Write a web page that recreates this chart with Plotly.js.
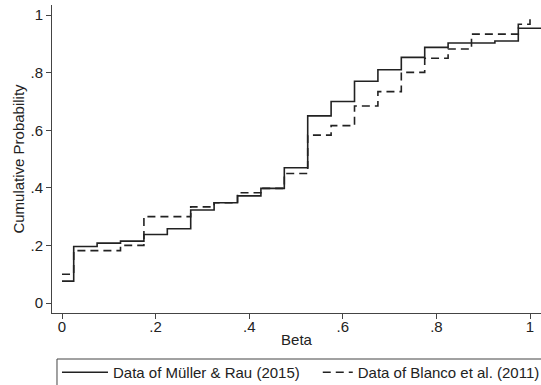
<!DOCTYPE html>
<html>
<head>
<meta charset="utf-8">
<script src="https://cdn.plot.ly/plotly-3.0.1.min.js"></script>
<style>html,body{margin:0;padding:0;background:#fff;overflow:hidden;}#chart{width:541px;height:385px;}</style>
</head>
<body>
<div id="chart"></div>
<script>
// Müller & Rau (2015) empirical CDF of beta
const mullerBeta = [0, 0.025, 0.075, 0.125, 0.175, 0.225, 0.275, 0.325, 0.375, 0.425, 0.475, 0.525, 0.575, 0.625, 0.675, 0.725, 0.775, 0.825, 0.925, 0.975, 1.075];
const mullerCum  = [0.076, 0.196, 0.208, 0.215, 0.238, 0.258, 0.323, 0.348, 0.372, 0.398, 0.470, 0.650, 0.700, 0.770, 0.810, 0.853, 0.888, 0.903, 0.910, 0.954, 1.0];
// Blanco et al. (2011) empirical CDF of beta
const blancoBeta = [0, 0.025, 0.125, 0.175, 0.275, 0.325, 0.375, 0.425, 0.475, 0.525, 0.575, 0.625, 0.675, 0.725, 0.775, 0.825, 0.875, 0.975, 1.0];
const blancoCum  = [0.100, 0.182, 0.200, 0.300, 0.334, 0.348, 0.383, 0.398, 0.450, 0.583, 0.616, 0.684, 0.734, 0.801, 0.850, 0.882, 0.934, 0.968, 1.0];
const xTickVals = [0, 0.2, 0.4, 0.6, 0.8, 1];
const xTickText = ["0", ".2", ".4", ".6", ".8", "1"];
const yTickVals = [0, 0.2, 0.4, 0.6, 0.8, 1];
const yTickText = ["0", ".2", ".4", ".6", ".8", "1"];
const seriesNames = ["Data of Müller & Rau (2015)", "Data of Blanco et al. (2011)"];

const font = {family: 'Liberation Sans, Arial, sans-serif', size: 15, color: '#222'};
const traces = [
  {x: mullerBeta, y: mullerCum, type: 'scatter', mode: 'lines', name: seriesNames[0],
   legend: 'legend', line: {shape: 'hv', color: '#222', width: 1.6}},
  {x: blancoBeta, y: blancoCum, type: 'scatter', mode: 'lines', name: seriesNames[1],
   legend: 'legend2', line: {shape: 'hv', color: '#222', width: 1.6, dash: '8px,5px'}}
];
const axisCommon = {
  showgrid: false, zeroline: false, showline: true, linecolor: '#444', linewidth: 1,
  ticks: 'outside', ticklen: 5, tickcolor: '#444', tickwidth: 1,
  tickfont: font, mirror: false
};
const legendCommon = {orientation: 'h', xanchor: 'left', y: -0.1397, yanchor: 'top',
  borderwidth: 0, font: font, bgcolor: 'rgba(0,0,0,0)'};
const layout = {
  width: 541, height: 385,
  margin: {l: 52, r: 0, t: 5, b: 72, autoexpand: false},
  paper_bgcolor: '#fff', plot_bgcolor: '#fff',
  font: font,
  showlegend: true,
  legend: Object.assign({}, legendCommon, {x: 0.0102, itemwidth: 46}),
  legend2: Object.assign({}, legendCommon, {x: 0.5435, itemwidth: 30}),
  shapes: [{type: 'rect', xref: 'paper', yref: 'paper', x0: 0.0102, x1: 1.1, y0: -0.1494, y1: -0.35,
            line: {color: '#444', width: 1}, fillcolor: 'rgba(0,0,0,0)', layer: 'below'}],
  xaxis: Object.assign({}, axisCommon, {
    range: [-0.0214, 1.0235], tickvals: xTickVals, ticktext: xTickText,
    ticklabelstandoff: -5,
    title: {text: 'Beta', font: font, standoff: 0}
  }),
  yaxis: Object.assign({}, axisCommon, {
    range: [-0.0347, 1.035], tickvals: yTickVals, ticktext: yTickText,
    title: {text: 'Cumulative Probability', font: font, standoff: 2}
  })
};
Plotly.newPlot('chart', traces, layout, {displayModeBar: false, staticPlot: true});
</script>
</body>
</html>
